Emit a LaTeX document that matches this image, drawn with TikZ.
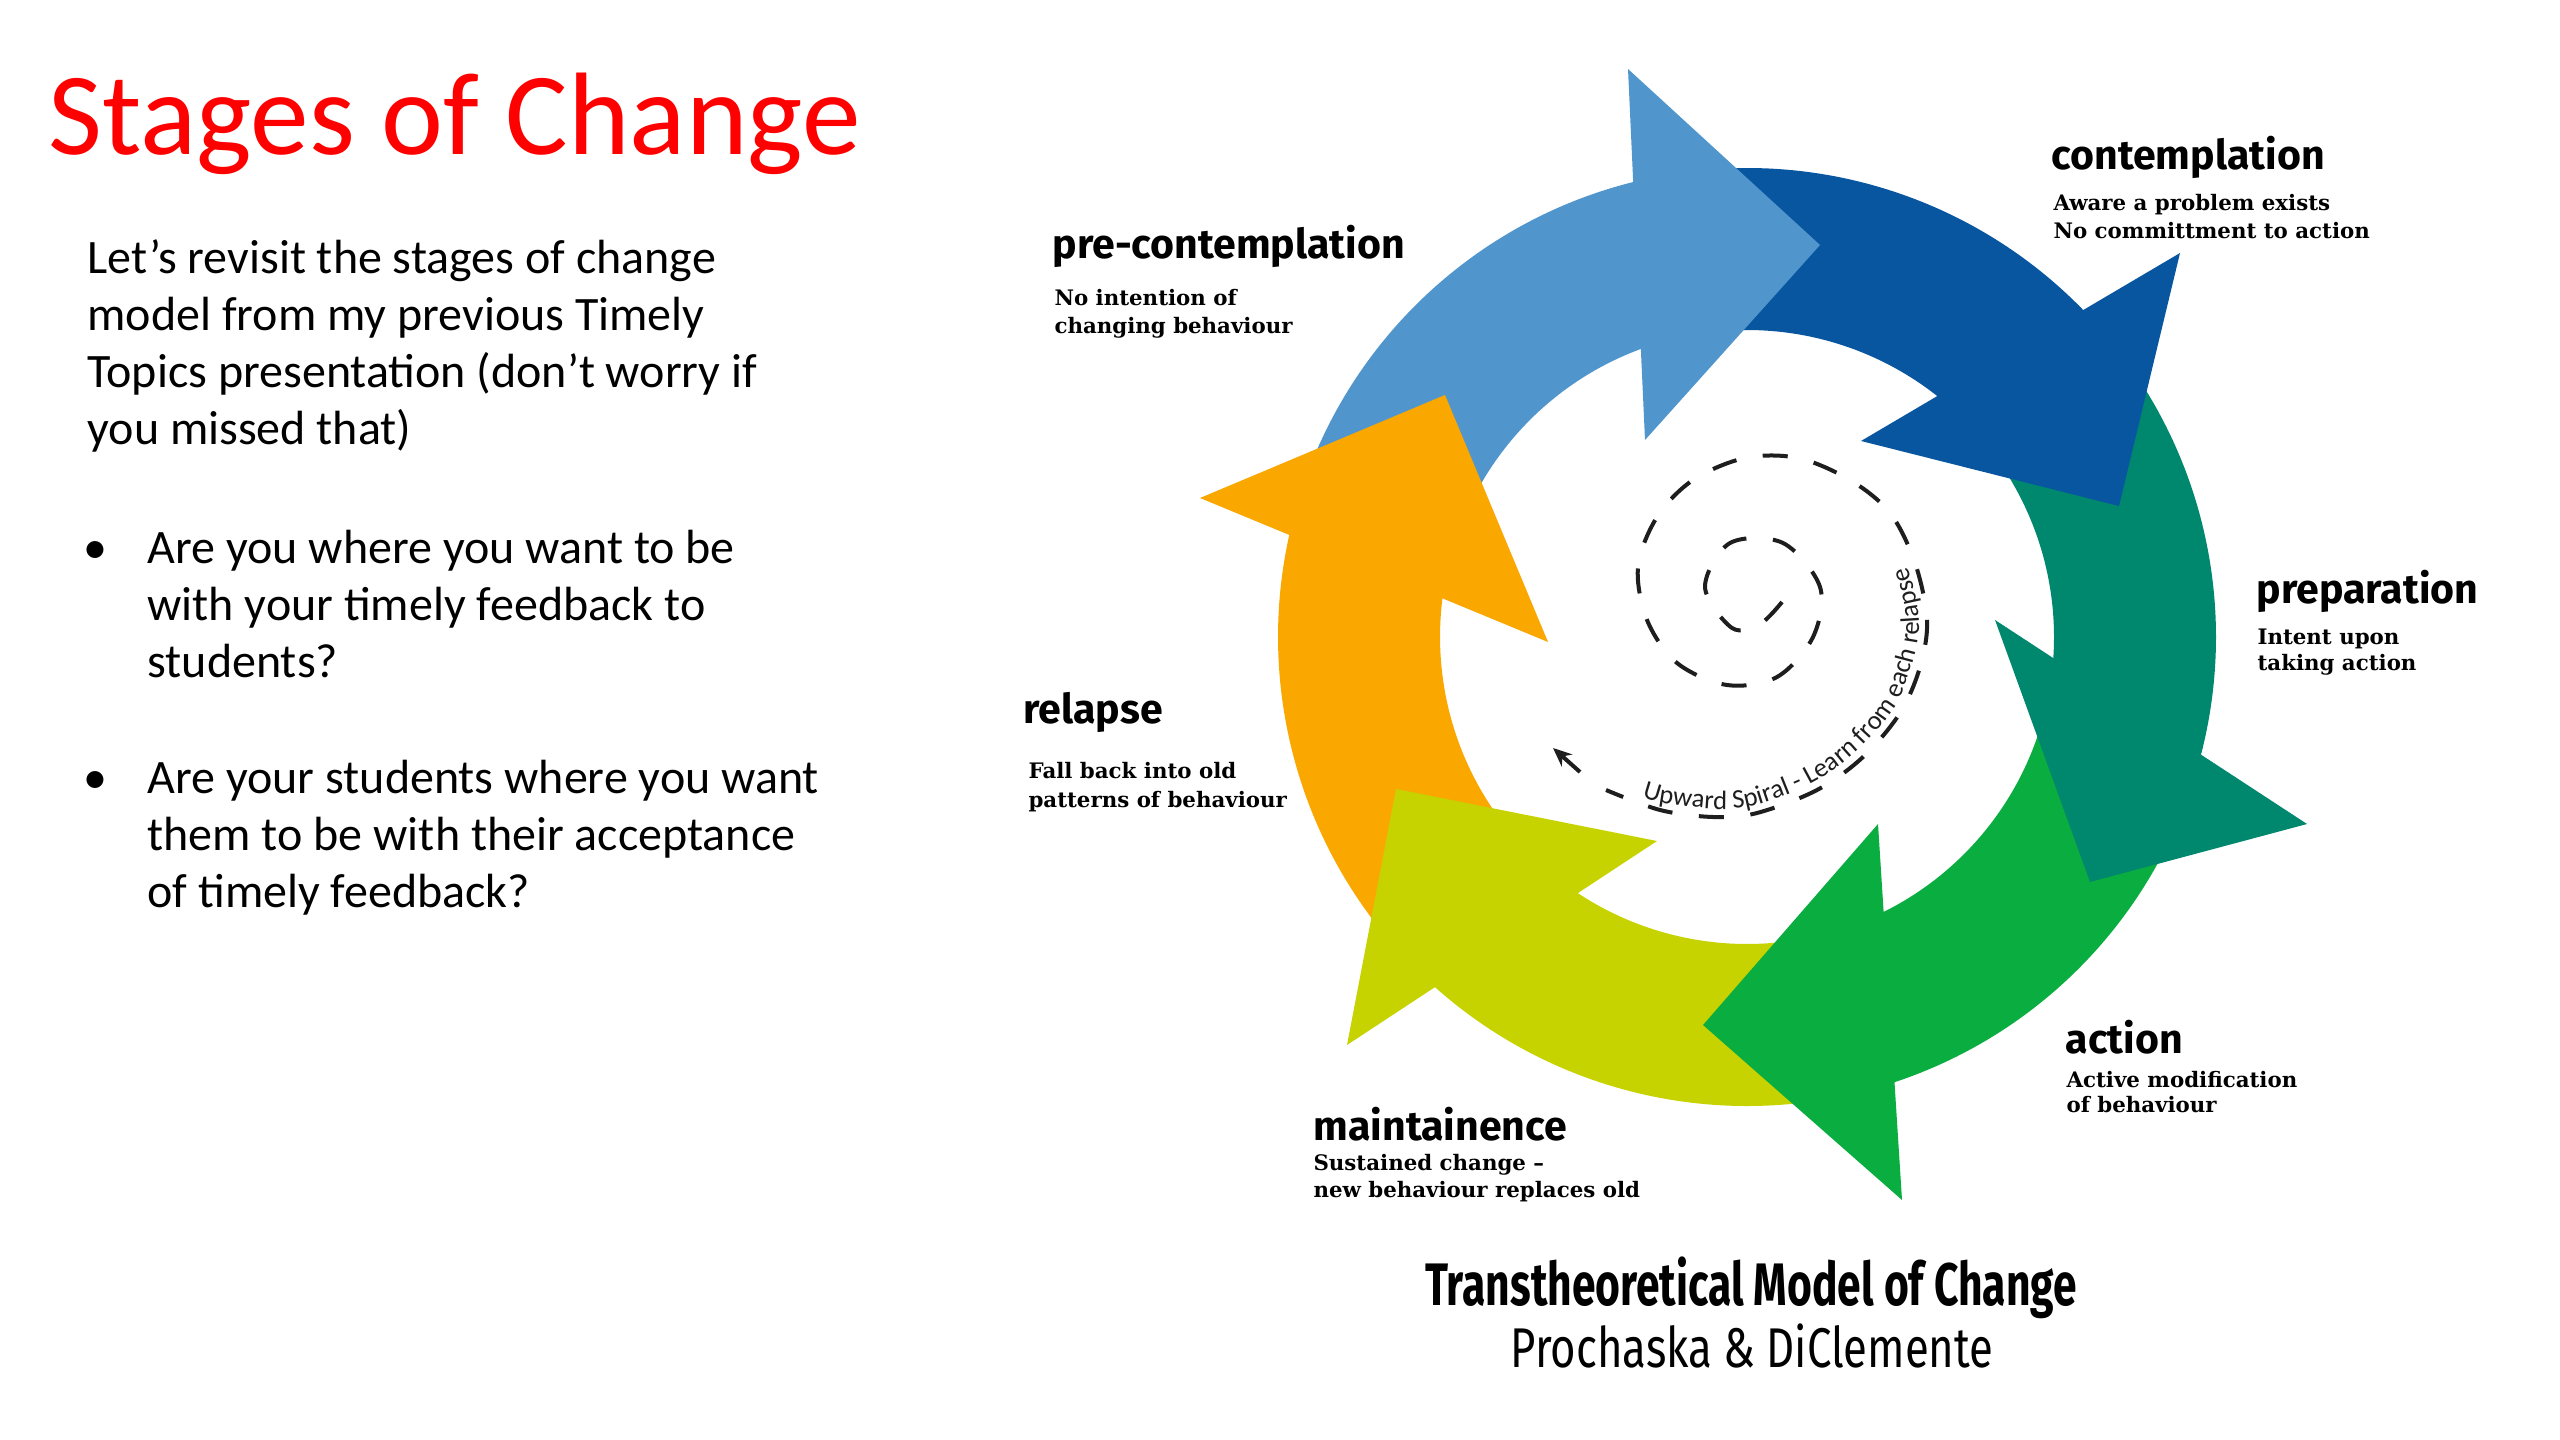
\documentclass[tikz,border=0pt]{standalone}
\usepackage{fontspec}
\setmainfont{Carlito}
\newfontfamily\labfont{Fira Sans}
\newfontfamily\capfontA{Fira Sans}[FakeStretch=0.71]
\newfontfamily\capfontB{Fira Sans}[FakeStretch=0.78]
\newfontfamily\descfont{DejaVu Serif}
\usetikzlibrary{calc,decorations.text,arrows.meta}
\definecolor{titlered}{RGB}{255,0,0}
\definecolor{cLB}{RGB}{80,150,205}
\definecolor{cDB}{RGB}{8,86,160}
\definecolor{cTL}{RGB}{0,136,110}
\definecolor{cGR}{RGB}{10,174,64}
\definecolor{cYG}{RGB}{198,211,0}
\definecolor{cOR}{RGB}{250,168,0}
\definecolor{spiralink}{RGB}{30,30,30}
\newcommand\spiralfont{\fontsize{10}{12}\selectfont}
% band: color, outer start, outer end, inner start, inner end
\newcommand\ringband[5]{\fill[#1] ($(C)+(#2:469)$) arc[start angle=#2, end angle=#3, radius=469] -- ($(C)+(#4:307)$) arc[start angle=#4, end angle=#5, radius=307] -- cycle;}
\tikzset{
  body/.style={anchor=base west, inner sep=0pt, font=\fontsize{18}{21.6}\selectfont},
  bulletmark/.style={anchor=base, inner sep=0pt, font=\fontsize{18}{21.6}\selectfont},
  stagelabel/.style={anchor=base west, inner sep=0pt, font=\labfont\bfseries\fontsize{15.4}{18}\selectfont},
  desc/.style={anchor=base west, inner sep=0pt, font=\descfont\bfseries\fontsize{8}{10}\selectfont},
  spiralline/.style={line width=1.5pt, draw=spiralink, dash pattern=on 9.4pt off 10pt},
}
\begin{document}
\begin{tikzpicture}[x=0.375pt,y=0.375pt]
\useasboundingbox (0,0) rectangle (2560,-1440);
\fill[white] (0,0) rectangle (2560,-1440);

% ---------- left text ----------
\node[anchor=base west, inner sep=0pt, text=titlered, font=\fontsize{44}{52}\selectfont] (title) at (48,-155) {Stages of Change};
\node[body] (p1) at (87,-273.5) {Let’s revisit the stages of change};
\node[body] (p2) at (87,-330.5) {model from my previous Timely};
\node[body] (p3) at (87,-387.5) {Topics presentation (don’t worry if};
\node[body] (p4) at (87,-444.5) {you missed that)};
\node[bulletmark] (bu1) at (95,-563) {•};
\node[body] (q1a) at (147,-563) {Are you where you want to be};
\node[body] (q1b) at (147,-620) {with your timely feedback to};
\node[body] (q1c) at (147,-677) {students?};
\node[bulletmark] (bu2) at (95,-793) {•};
\node[body] (q2a) at (147,-793) {Are your students where you want};
\node[body] (q2b) at (147,-850) {them to be with their acceptance};
\node[body] (q2c) at (147,-907) {of timely feedback?};

% ---------- ring ----------
\coordinate (C) at (1747,-637);
\ringband{cLB}{161.9}{97.8}{100.4}{161.3}
\ringband{cDB}{97.8}{37.9}{41.4}{100.4}
\ringband{cTL}{37.9}{-21.7}{-11.5}{41.4}
\ringband{cGR}{-21.7}{-78.0}{-74.2}{-11.5}
\ringband{cYG}{-78.0}{-137.5}{-134.8}{-74.2}
\ringband{cOR}{-137.5}{-198.1}{-198.7}{-134.8}

% arrow heads
\coordinate (lbO) at (1628,-69);  \coordinate (lbT) at (1820,-245); \coordinate (lbI) at (1645,-440);
\coordinate (dbO) at (2180,-253); \coordinate (dbT) at (2119,-506); \coordinate (dbI) at (1861,-441);
\coordinate (tlO) at (2307,-824); \coordinate (tlT) at (2090,-882); \coordinate (tlI) at (1995,-620);
\coordinate (grO) at (1902,-1200); \coordinate (grT) at (1703,-1025); \coordinate (grI) at (1878,-824);
\coordinate (ygO) at (1347,-1045); \coordinate (ygT) at (1396,-789); \coordinate (ygI) at (1657,-841);
\coordinate (orO) at (1200,-498); \coordinate (orT) at (1445,-395); \coordinate (orI) at (1548,-642);
\fill[cLB] (lbO) -- (lbT) -- (lbI) -- cycle;
\fill[cDB] (dbO) -- (dbT) -- (dbI) -- cycle;
\fill[cTL] (tlO) -- (tlT) -- (tlI) -- cycle;
\fill[cGR] (grO) -- (grT) -- (grI) -- cycle;
\fill[cYG] (ygO) -- (ygT) -- (ygI) -- cycle;
\fill[cOR] (orO) -- (orT) -- (orI) -- cycle;

% ---------- spiral ----------
\draw[spiralline] plot[smooth, tension=0.55] coordinates {
 (1782,-602) (1760,-624) (1732,-628) (1705,-587) (1730,-543) (1783,-543) (1820,-587) (1813,-637)
 (1777,-677) (1727,-685) (1677,-663) (1647,-620) (1638,-567) (1657,-517) (1693,-480)
 (1745,-458) (1798,-458) (1850,-480) (1890,-513) (1915,-563) (1927,-620) (1920,-667)
 (1900,-713) (1863,-757) (1817,-790) (1757,-813) (1713,-817) (1660,-810) (1606,-790)};
\coordinate (sA) at (1580,-772);
\coordinate (sTip) at (1553,-748);
\draw[line width=1.5pt, draw=spiralink, -{Stealth[length=7pt,width=6pt]}] (sA) -- (sTip);
\path[decorate, decoration={text along path, text align=left,
  text={|\spiralfont\color{spiralink}|Upward Spiral - Learn from each relapse}}]
  plot[smooth, tension=0.55] coordinates {(1642,-797) (1664,-803) (1715,-809) (1757,-805) (1815,-782)
  (1858,-750) (1894,-708) (1912,-664) (1919,-620) (1907,-566) (1885,-525) (1855,-490)};

% ---------- stage labels ----------
\node[stagelabel] (lpre) at (1052,-259) {pre-contemplation};
\node[desc] (dpre1) at (1054,-306) {No intention of};
\node[desc] (dpre2) at (1054,-334) {changing behaviour};
\node[stagelabel] (lcon) at (2051,-170) {contemplation};
\node[desc] (dcon1) at (2053,-211) {Aware a problem exists};
\node[desc] (dcon2) at (2053,-239) {No committment to action};
\node[stagelabel] (lprep) at (2256,-603) {preparation};
\node[desc] (dprep1) at (2257,-644) {Intent upon};
\node[desc] (dprep2) at (2257,-670) {taking action};
\node[stagelabel] (lrel) at (1023,-723) {relapse};
\node[desc] (drel1) at (1028,-778) {Fall back into old};
\node[desc] (drel2) at (1028,-807) {patterns of behaviour};
\node[stagelabel] (lact) at (2065,-1053) {action};
\node[desc] (dact1) at (2066,-1087) {Active modification};
\node[desc] (dact2) at (2066,-1112) {of behaviour};
\node[stagelabel] (lmai) at (1313,-1140) {maintainence};
\node[desc] (dmai1) at (1313,-1170) {Sustained change –};
\node[desc] (dmai2) at (1313,-1197) {new behaviour replaces old};

% ---------- caption ----------
\node[anchor=base, inner sep=0pt, font=\capfontA\bfseries\fontsize{22.5}{26}\selectfont] (cap1) at (1751,-1305) {Transtheoretical Model of Change};
\node[anchor=base, inner sep=0pt, font=\capfontB\fontsize{21}{25}\selectfont] (cap2) at (1752,-1367) {Prochaska \& DiClemente};
\end{tikzpicture}
\end{document}
